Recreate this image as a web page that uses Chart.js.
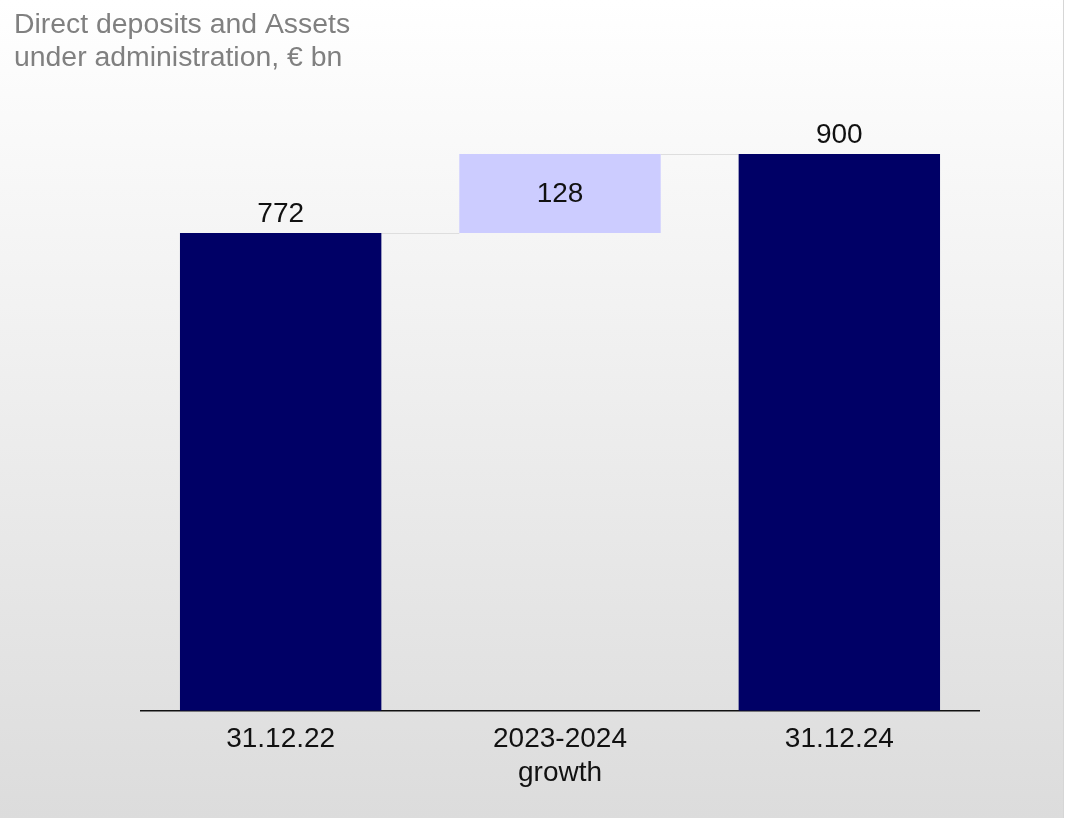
<!DOCTYPE html>
<html>
<head>
<meta charset="utf-8">
<title>Direct deposits and AuA</title>
<script src="https://cdn.jsdelivr.net/npm/chart.js@4"></script>
<style>
  html, body { margin: 0; padding: 0; background: #fff; }
  #wrap { width: 1065px; height: 818px; }
</style>
</head>
<body>
<div id="wrap"><canvas id="myChart" width="1065" height="818"></canvas></div>
<script>
  const categories = [['31.12.22'], ['2023-2024', 'growth'], ['31.12.24']];
  const values = [772, 128, 900];
  const kinds = ['total', 'delta', 'total'];
  const titleLines = ['Direct deposits and Assets', 'under administration, € bn'];

  const FONT = '"Liberation Sans", Arial, sans-serif';

  // waterfall ranges: totals start at zero, deltas start on the running total
  let running = 0;
  const ranges = values.map((v, i) => {
    if (kinds[i] === 'total') { running = v; return [0, v]; }
    const r = [running, running + v];
    running += v;
    return r;
  });

  const waterfallPlugin = {
    id: 'waterfall',
    beforeDraw(chart) {
      const { ctx, width, height } = chart;
      ctx.save();
      const g = ctx.createLinearGradient(0, 0, 0, height);
      g.addColorStop(0, '#ffffff');
      g.addColorStop(1, '#dcdcdc');
      ctx.fillStyle = g;
      ctx.fillRect(0, 0, width - 2, height);
      ctx.fillStyle = '#d6d6d6';
      ctx.fillRect(width - 2, 0, 1, height);

      ctx.fillStyle = '#808080';
      ctx.font = '28.4px ' + FONT;
      ctx.textBaseline = 'alphabetic';
      ctx.textAlign = 'left';
      titleLines.forEach((t, i) => ctx.fillText(t, 14, 33 + i * 33.3));
      ctx.restore();
    },
    beforeDatasetsDraw(chart) {
      const { ctx } = chart;
      const y = chart.scales.y;
      const bars = chart.getDatasetMeta(0).data;
      ctx.save();
      ctx.strokeStyle = '#dedede';
      ctx.lineWidth = 1;
      for (let i = 0; i < bars.length - 1; i++) {
        const level = Math.round(y.getPixelForValue(ranges[i][1])) + 0.5;
        const a = bars[i], b = bars[i + 1];
        ctx.beginPath();
        ctx.moveTo(a.x + a.width / 2, level);
        ctx.lineTo(b.x - b.width / 2, level);
        ctx.stroke();
      }
      ctx.restore();
    },
    afterDatasetsDraw(chart) {
      const { ctx } = chart;
      const bars = chart.getDatasetMeta(0).data;
      ctx.save();
      ctx.fillStyle = '#111';
      ctx.font = '28px ' + FONT;
      ctx.textAlign = 'center';
      bars.forEach((bar, i) => {
        if (kinds[i] === 'total') {
          ctx.textBaseline = 'alphabetic';
          ctx.fillText(String(values[i]), bar.x, bar.y - 11);
        } else {
          ctx.textBaseline = 'middle';
          ctx.fillText(String(values[i]), bar.x, (bar.y + bar.base) / 2 + 1);
        }
      });
      ctx.restore();
    }
  };

  const ctx = document.getElementById('myChart').getContext('2d');
  const myChart = new Chart(ctx, {
    type: 'bar',
    data: {
      labels: categories,
      datasets: [{
        data: ranges,
        backgroundColor: kinds.map(k => k === 'total' ? '#000066' : '#ccccff'),
        borderWidth: 0,
        categoryPercentage: 1,
        barPercentage: 0.721
      }]
    },
    options: {
      responsive: false,
      animation: false,
      layout: { padding: { top: 92, left: 141, right: 86, bottom: 24 } },
      plugins: {
        legend: { display: false },
        tooltip: { enabled: false }
      },
      scales: {
        x: {
          grid: { display: false },
          border: { display: true, color: '#111', width: 1.5 },
          ticks: {
            color: '#111',
            padding: 4,
            font: { family: FONT, size: 28, lineHeight: 1.2 },
            maxRotation: 0,
            autoSkip: false
          }
        },
        y: {
          display: false,
          min: 0,
          max: 1000
        }
      }
    },
    plugins: [waterfallPlugin]
  });
</script>
</body>
</html>
